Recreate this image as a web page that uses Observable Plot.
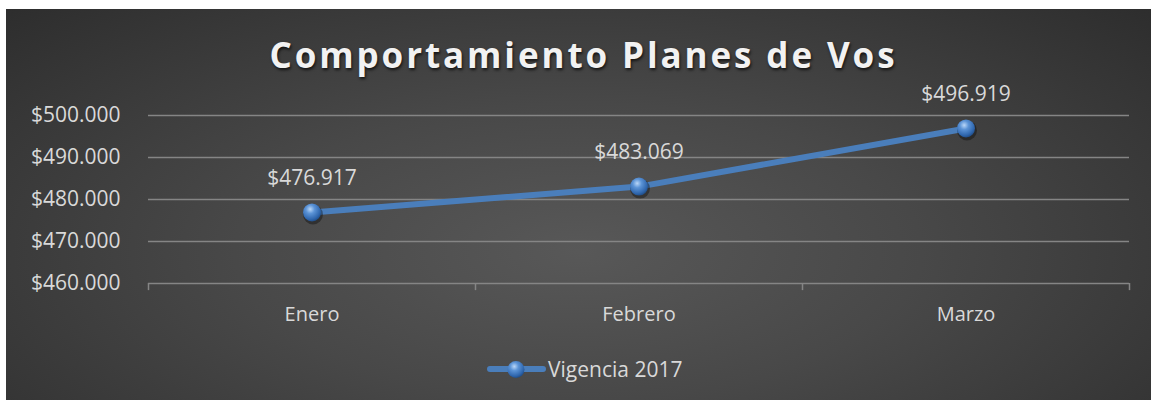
<!DOCTYPE html>
<html>
<head>
<meta charset="utf-8">
<script src="https://cdn.jsdelivr.net/npm/d3@7"></script>
<script src="https://cdn.jsdelivr.net/npm/@observablehq/plot@0.6"></script>
<style>
  html, body { margin: 0; padding: 0; background: #ffffff; }
  body { width: 1151px; height: 400px; position: relative; overflow: hidden; font-family: "Open Sans", sans-serif; }
  #panel {
    position: absolute; left: 6px; top: 9px; width: 1145px; height: 391px;
    background: radial-gradient(ellipse 75% 95% at 50% 62%, #585858 0%, #484848 40%, #2a2a2a 100%);
    overflow: hidden;
  }
  #title {
    position: absolute; top: 22px; left: 0; width: 1155px; text-align: center;
    font-size: 35px; font-weight: 700; color: #f2f2f2; letter-spacing: 2.9px;
    text-shadow: 1px 2px 3px rgba(0,0,0,0.7); white-space: nowrap;
  }
  #chart { position: absolute; left: 0; top: 0; }
  #legend {
    position: absolute; top: 346px; left: 474px; display: flex; align-items: center;
    font-size: 21px; color: #d9d9d9; white-space: nowrap;
  }
  svg text { font-family: "Open Sans", sans-serif; }
</style>
</head>
<body>
<div id="panel">
  <div id="chart"></div>
  <div id="title">Comportamiento Planes de Vos</div>
  <div id="legend">
    <svg width="66" height="24" style="margin-right:2px">
      <defs>
        <radialGradient id="ballL" cx="40%" cy="32%" r="70%">
          <stop offset="0%" stop-color="#b9d6f7"/>
          <stop offset="35%" stop-color="#5b93d6"/>
          <stop offset="80%" stop-color="#2f66ad"/>
          <stop offset="100%" stop-color="#1f4c86"/>
        </radialGradient>
      </defs>
      <line x1="10" x2="63" y1="12" y2="12" stroke="#4a7ebb" stroke-width="6" stroke-linecap="round"/>
      <circle cx="36" cy="12.5" r="8.5" fill="url(#ballL)"/>
    </svg>
    <span>Vigencia 2017</span>
  </div>
</div>
<script>
// ---- data ----
const categories = ["Enero", "Febrero", "Marzo"];
const values = [476917, 483069, 496919];
const yTicks = [460000, 470000, 480000, 490000, 500000];
const seriesName = "Vigencia 2017";

const locale = d3.formatLocale({decimal: ",", thousands: ".", grouping: [3], currency: ["$", ""]});
const money = locale.format("$,.0f");

const data = categories.map((c, i) => ({cat: c, idx: i + 0.5, value: values[i]}));
const bounds = d3.range(categories.length + 1);

const chart = Plot.plot({
  width: 1145,
  height: 391,
  marginLeft: 142,
  marginRight: 22,
  marginTop: 106,
  marginBottom: 117,
  style: {background: "transparent", color: "#d9d9d9", fontSize: "20px", fontFamily: "Open Sans, sans-serif"},
  x: {domain: [0, categories.length], axis: null},
  y: {domain: [460000, 500000], axis: null},
  marks: [
    Plot.ruleY(yTicks, {stroke: "#858585", strokeWidth: 1.5}),
    Plot.ruleX(bounds, {y1: 460000, y2: 458300, stroke: "#858585", strokeWidth: 1.5}),
    Plot.text(yTicks, {y: d => d, frameAnchor: "left", textAnchor: "end", dx: -28, text: d => money(d), fill: "#d9d9d9", fontSize: 21}),
    Plot.text(data, {x: "idx", frameAnchor: "bottom", dy: 37, text: "cat", fill: "#d9d9d9", fontSize: 20}),
    Plot.line(data, {x: "idx", y: "value", stroke: "#4a7ebb", strokeWidth: 6, strokeLinecap: "round"}),
    Plot.dot(data, {x: "idx", y: "value", r: 10, fill: "rgba(0,0,0,0.35)", dx: 1, dy: 2}),
    Plot.dot(data, {x: "idx", y: "value", r: 9, fill: "url(#ball)", ariaLabel: "markers"}),
    Plot.text(data, {x: "idx", y: "value", dy: -34, text: d => money(d.value), fill: "#d9d9d9", fontSize: 21})
  ]
});

d3.select(chart).insert("defs", ":first-child").html(`
  <radialGradient id="ball" cx="40%" cy="32%" r="70%">
    <stop offset="0%" stop-color="#b9d6f7"/>
    <stop offset="35%" stop-color="#5b93d6"/>
    <stop offset="80%" stop-color="#2f66ad"/>
    <stop offset="100%" stop-color="#1f4c86"/>
  </radialGradient>`);

document.getElementById("chart").appendChild(chart);
</script>
</body>
</html>
